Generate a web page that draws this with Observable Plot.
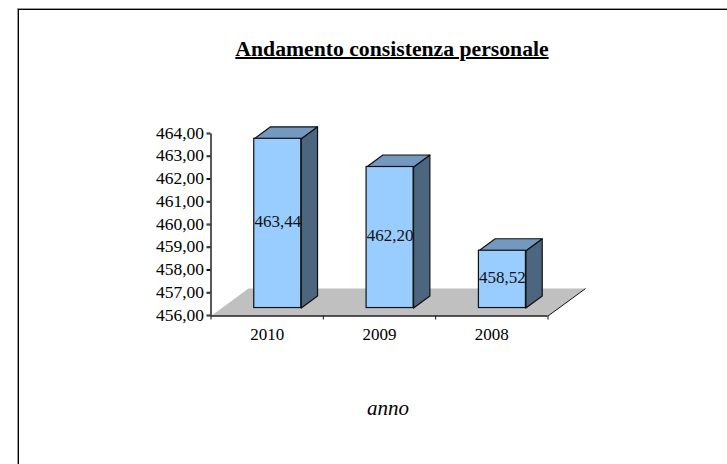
<!DOCTYPE html>
<html>
<head>
<meta charset="utf-8">
<script src="https://cdn.jsdelivr.net/npm/d3@7"></script>
<script src="https://cdn.jsdelivr.net/npm/@observablehq/plot@0.6"></script>
<style>
  html, body { margin: 0; padding: 0; background: #fff; width: 727px; height: 464px; overflow: hidden; }
  #frame { position: absolute; left: 17px; top: 8px; right: 0; bottom: 0; border-left: 1px solid #999; border-top: 1px solid #999; }
  #inner { position: absolute; left: 0; top: 0; right: 0; bottom: 0; border-left: 1.5px solid #000; border-top: 1.5px solid #000; }
  #title { position: absolute; left: 92px; width: 600px; top: 37px; text-align: center; font: bold 21.7px "Liberation Serif", serif; color: #000; text-decoration: underline; text-decoration-thickness: 2px; text-underline-offset: 1px; }
  #caption { position: absolute; left: 288px; width: 200px; top: 396px; text-align: center; font: italic 21px "Liberation Serif", serif; color: #000; }
  #chart { position: absolute; left: 0; top: 0; }
  #chart svg { overflow: visible; }
</style>
</head>
<body>
<div id="frame"><div id="inner"></div></div>
<div id="chart"></div>
<div id="title">Andamento consistenza personale</div>
<div id="caption">anno</div>
<script>
const categories = ["2010", "2009", "2008"];
const values = [463.44, 462.20, 458.52];
const yTicks = [456, 457, 458, 459, 460, 461, 462, 463, 464];
const yBase = 456;
const fmt = (v) => v.toFixed(2).replace(".", ",");

// 3D projection constants, in data units
const barStart = 0.385, barWidth = 0.4185;
const frontX = 0, frontY = 0.35;
const sideX = 0.145, sideY = 0.526;
const floorX = 0.334, floorY = 1.206;

const bars = values.map((v, i) => ({
  cat: categories[i], v,
  x1: i + barStart + frontX,
  x2: i + barStart + frontX + barWidth,
  y1: yBase + frontY,
  y2: v + frontY
}));

const sides = bars.flatMap((b) => [
  {id: b.cat, x: b.x2, y: b.y1},
  {id: b.cat, x: b.x2 + sideX, y: b.y1 + sideY},
  {id: b.cat, x: b.x2 + sideX, y: b.y2 + sideY},
  {id: b.cat, x: b.x2, y: b.y2},
  {id: b.cat, x: b.x2, y: b.y1}
]);
const tops = bars.flatMap((b) => [
  {id: b.cat, x: b.x1, y: b.y2},
  {id: b.cat, x: b.x2, y: b.y2},
  {id: b.cat, x: b.x2 + sideX, y: b.y2 + sideY},
  {id: b.cat, x: b.x1 + sideX, y: b.y2 + sideY},
  {id: b.cat, x: b.x1, y: b.y2}
]);
const n = categories.length;
const floor = [
  {x: 0, y: yBase},
  {x: n, y: yBase},
  {x: n + floorX, y: yBase + floorY},
  {x: floorX, y: yBase + floorY},
  {x: 0, y: yBase}
];

const serif = "Liberation Serif";
const chart = Plot.plot({
  width: 727,
  height: 464,
  marginLeft: 210.5,
  marginRight: 179.5,
  marginTop: 133.5,
  marginBottom: 148.5,
  style: {background: "transparent", fontFamily: serif, fontSize: "17px", color: "#000"},
  x: {domain: [0, n], axis: null},
  y: {domain: [yBase, 464], axis: null},
  marks: [
    Plot.line(floor, {x: "x", y: "y", fill: "#c0c0c0", stroke: "none"}),
    Plot.link([floor[1]], {x1: "x", y1: "y", x2: (d) => d.x + floorX, y2: (d) => d.y + floorY, stroke: "#111", strokeWidth: 1}),
    Plot.axisY({ticks: yTicks, tickSize: 4, tickPadding: 3, tickFormat: fmt, label: null, fontSize: 17.5, stroke: "#111", strokeOpacity: 1, fill: "#000", textStroke: "none", dy: -1}),
    Plot.axisY({ticks: yTicks, tickSize: 4, text: null, label: null, stroke: "#111", strokeOpacity: 1}),
    Plot.axisX({ticks: d3.range(n + 1), tickSize: 4, text: null, label: null, stroke: "#111", strokeOpacity: 1}),
    Plot.axisX({ticks: categories.map((c, i) => i + 0.5), tickSize: 0, tickPadding: 12, tickFormat: (t) => categories[Math.floor(t)], label: null, fontSize: 17, fill: "#000"}),
    Plot.ruleX([0], {stroke: "#222", strokeWidth: 1.5}),
    Plot.ruleY([yBase], {stroke: "#222", strokeWidth: 1.5}),
    Plot.line(sides, {x: "x", y: "y", z: "id", fill: "#4d6680", stroke: "#111", strokeWidth: 1.2, strokeLinejoin: "round"}),
    Plot.line(tops, {x: "x", y: "y", z: "id", fill: "#7399c0", stroke: "#111", strokeWidth: 1.2, strokeLinejoin: "round"}),
    Plot.rect(bars, {x1: "x1", x2: "x2", y1: "y1", y2: "y2", fill: "#99ccff", stroke: "#111", strokeWidth: 1.2}),
    Plot.text(bars, {x: (d) => (d.x1 + d.x2) / 2, y: (d) => (d.y1 + d.y2) / 2, dy: -1.5, text: (d) => fmt(d.v), fontSize: 17, fill: "#111"})
  ]
});
document.getElementById("chart").appendChild(chart);
</script>
</body>
</html>
